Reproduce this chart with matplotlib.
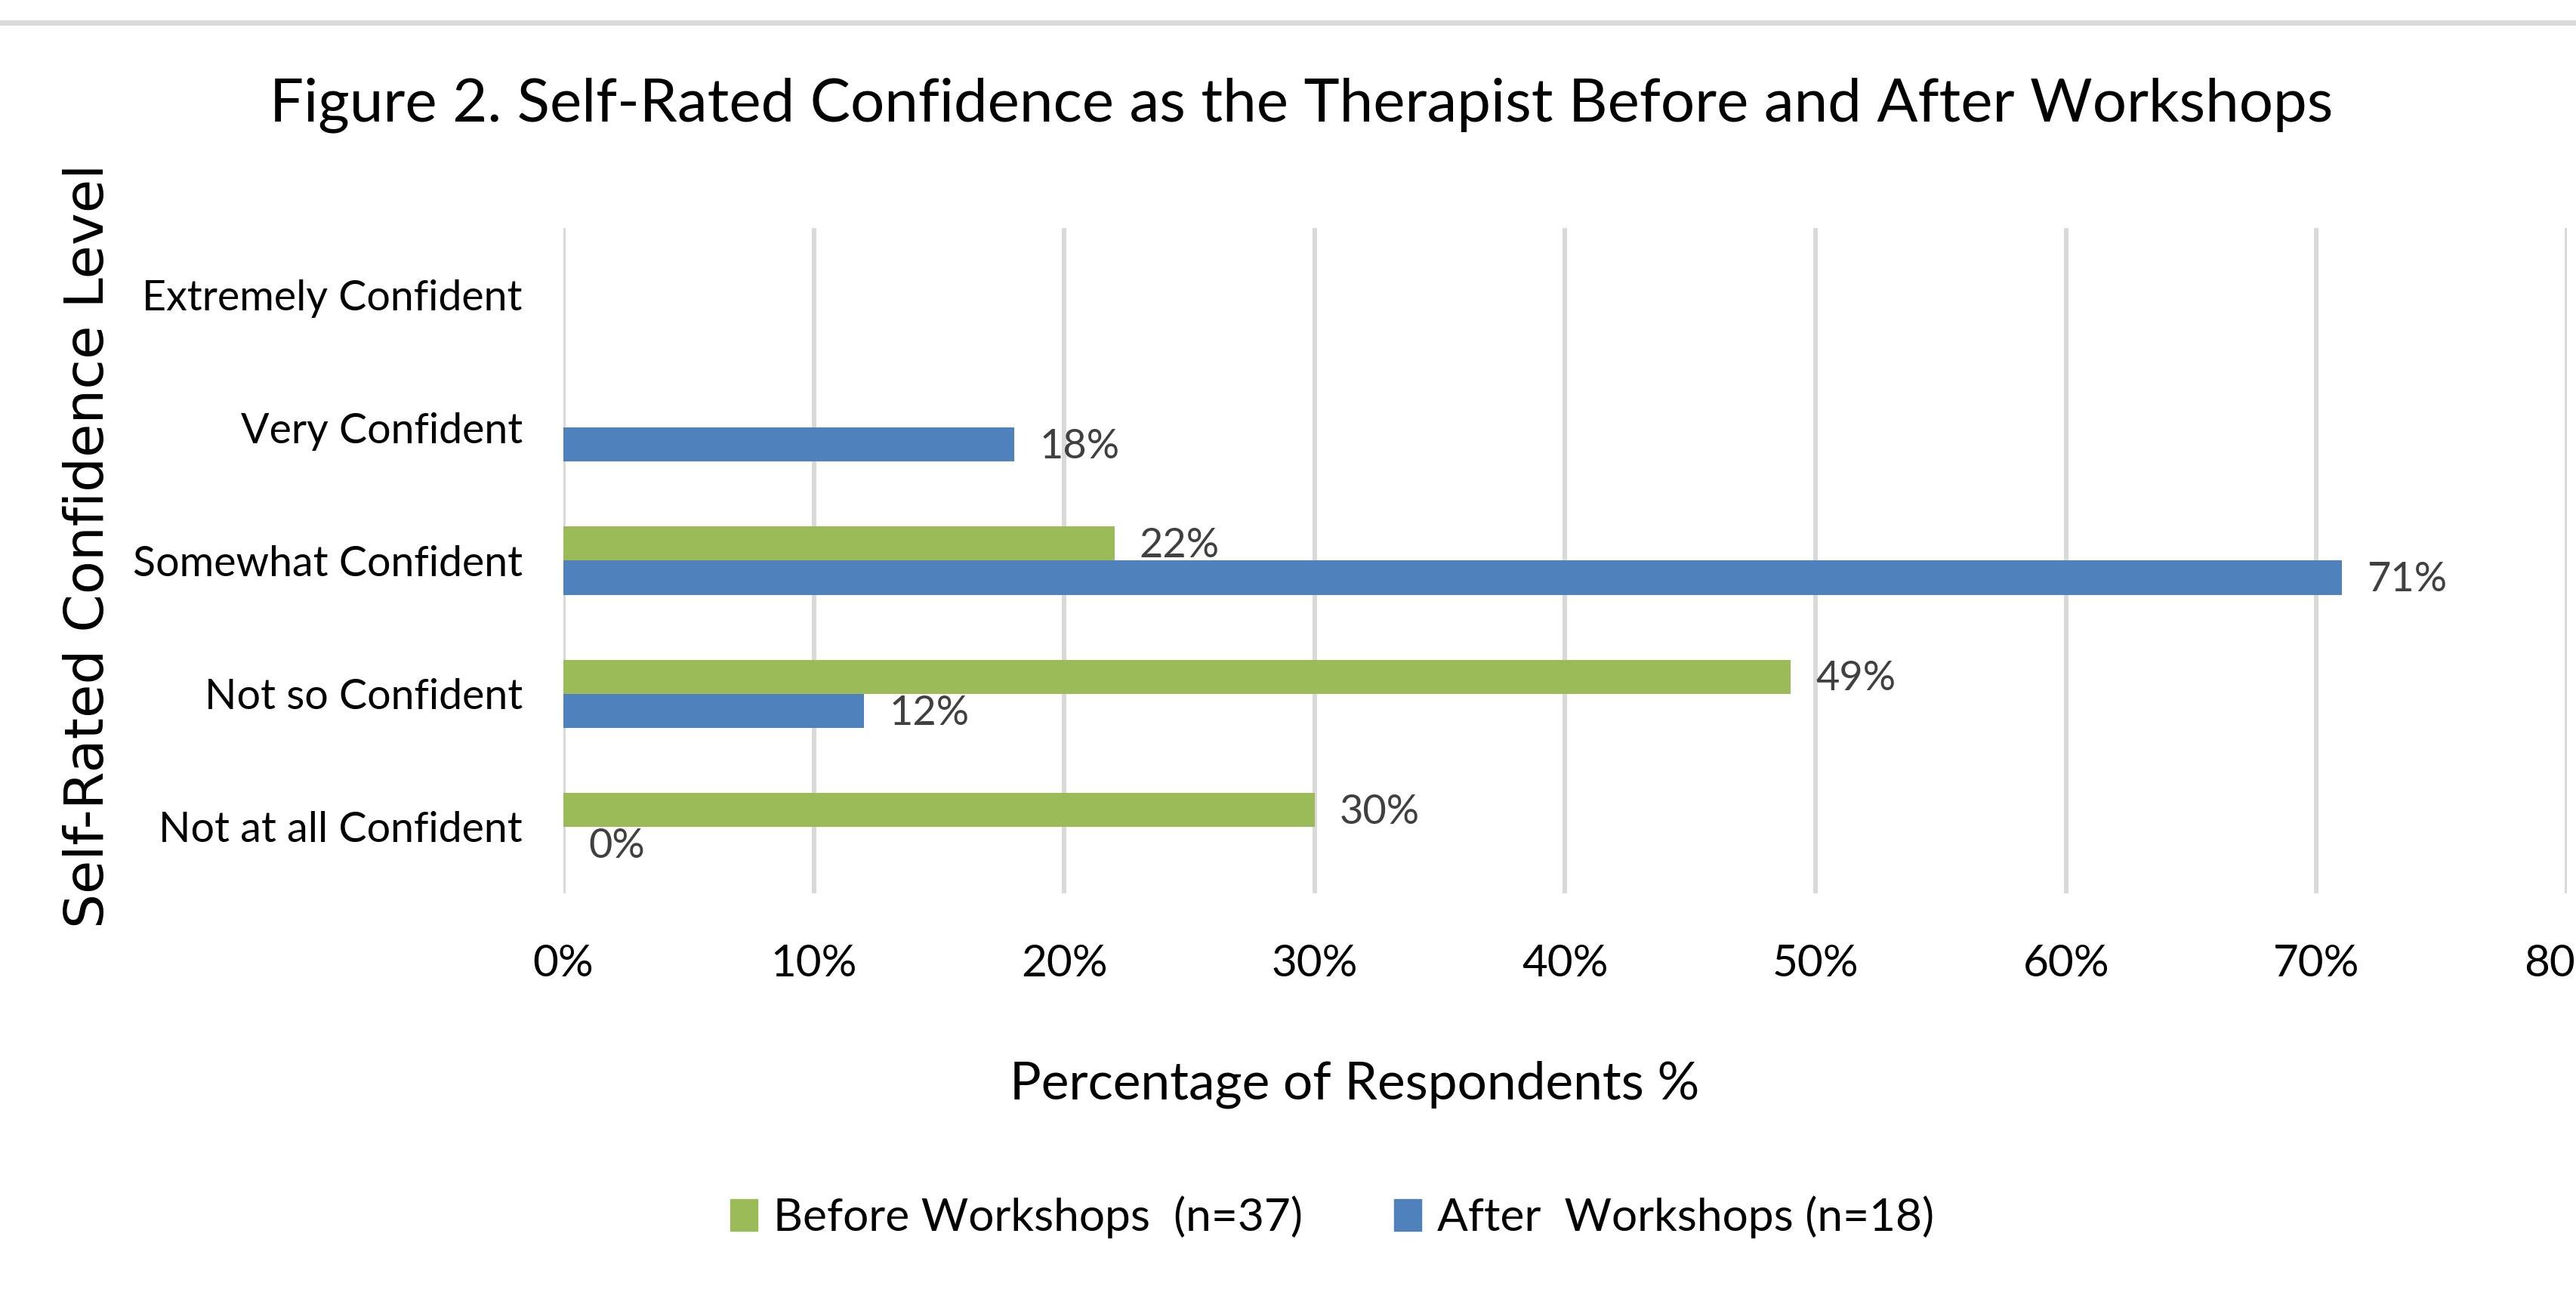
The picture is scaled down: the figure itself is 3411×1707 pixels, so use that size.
import matplotlib
matplotlib.use("Agg")
import matplotlib.pyplot as plt
import numpy as np
from matplotlib.lines import Line2D
from matplotlib.patches import Patch

# confidence levels, bottom to top as drawn
levels = ["Not at all Confident", "Not so Confident", "Somewhat Confident",
          "Very Confident", "Extremely Confident"]
before_pct = [30, 49, 22, np.nan, np.nan]
after_pct = [0, 12, 71, 18, np.nan]
x_ticks = [0, 10, 20, 30, 40, 50, 60, 70, 80]
series_names = ["Before Workshops  (n=37)", "After  Workshops (n=18)"]

title = "Figure 2. Self-Rated Confidence as the Therapist Before and After Workshops"
x_title = "Percentage of Respondents %"
y_title = "Self-Rated Confidence Level"

GREEN = "#9BBB59"
BLUE = "#4F81BD"
GRID = "#D9D9D9"

plt.rcParams['font.family'] = ['Lato', 'DejaVu Sans']

W, H = 3412, 1707
fig = plt.figure(figsize=(W / 100, H / 100), dpi=100)

# thin grey rule across the top
fig.add_artist(Line2D([0, 1], [1 - 29.5 / H, 1 - 29.5 / H], transform=fig.transFigure,
                      color=GRID, lw=5))

ax = fig.add_axes([746 / W, 1 - 1183 / H, (3399 - 746) / W, (1183 - 302) / H])

y = np.arange(len(levels))
bar_h = 0.256
ax.barh(y + bar_h / 2, before_pct, height=bar_h, color=GREEN, label=series_names[0])
ax.barh(y - bar_h / 2, after_pct, height=bar_h, color=BLUE, label=series_names[1])

for vals, off in [(before_pct, bar_h / 2), (after_pct, -bar_h / 2)]:
    for i, v in enumerate(vals):
        if np.isnan(v):
            continue
        ax.annotate(f"{v:.0f}%", xy=(v, y[i] + off), xytext=(24, -2),
                    textcoords='offset points', ha='left', va='center',
                    color='#404040', fontsize=39)

ax.set_xlim(0, 80)
ax.set_ylim(-0.5, len(levels) - 0.5)
ax.set_xticks(x_ticks)
ax.set_xticklabels([f"{t}%" for t in x_ticks])
ax.set_yticks(y)
ax.set_yticklabels(levels)
ax.tick_params(axis='x', length=0, pad=48, labelsize=42, labelcolor='black')
ax.tick_params(axis='y', length=0, pad=39, labelsize=40, labelcolor='black')
ax.xaxis.grid(True, color=GRID, lw=4.3)
ax.set_axisbelow(True)
for s in ax.spines.values():
    s.set_visible(False)

fig.text(1723 / W, 1 - 160 / H, title, ha='center', va='baseline', fontsize=57.5)
fig.text(1794 / W, 1 - 1455 / H, x_title, ha='center', va='baseline', fontsize=50)
fig.text(118 / W, 1 - 723 / H, y_title, ha='center', va='center', rotation=90,
         fontsize=52, family='DejaVu Sans')

handles = [Patch(color=GREEN), Patch(color=BLUE)]
fig.legend(handles, series_names, loc='center', bbox_to_anchor=(1764 / W, 1 - 1612 / H),
           ncol=2, frameon=False, fontsize=43.5, handlelength=0.6, handleheight=0.7,
           handletextpad=0.34, columnspacing=2.0)

fig.savefig("out.png", dpi=100)
